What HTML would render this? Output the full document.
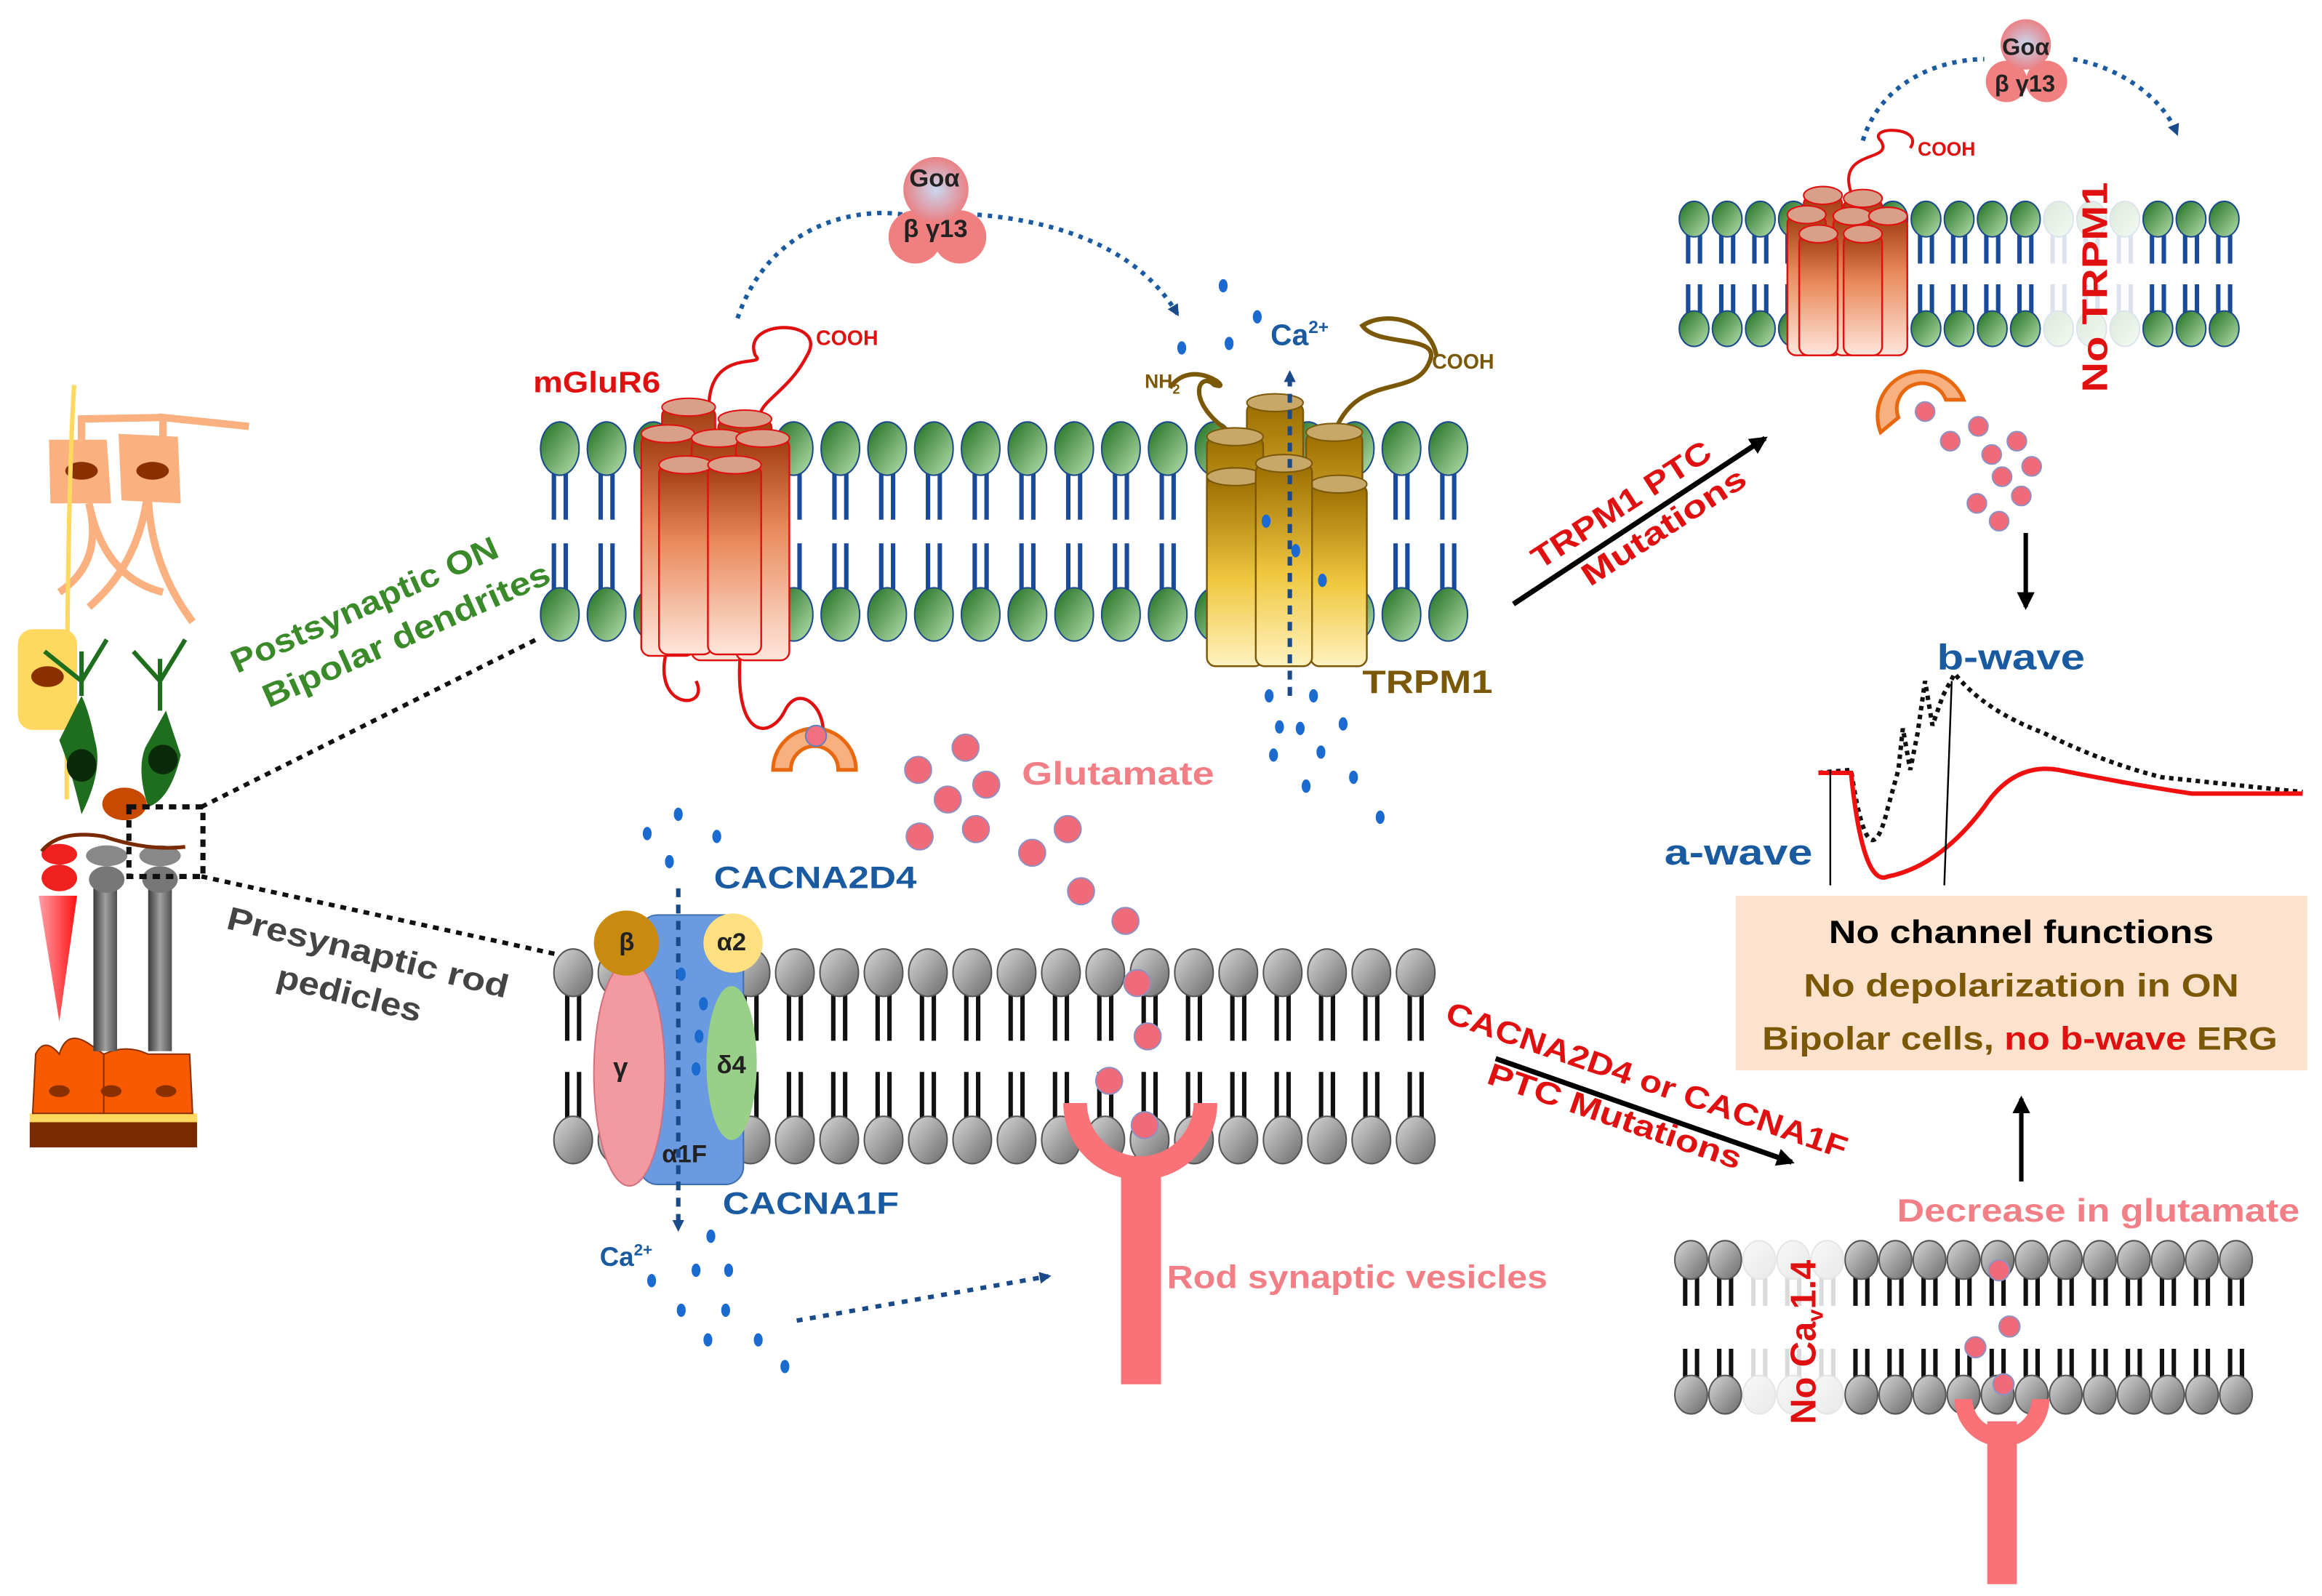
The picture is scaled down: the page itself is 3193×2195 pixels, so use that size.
<!DOCTYPE html>
<html><head><meta charset="utf-8"><style>
html,body{margin:0;padding:0;background:#fff}
svg{display:block}
text{font-family:"Liberation Sans","DejaVu Sans",sans-serif;font-weight:bold}
</style></head><body>
<svg id="s" width="3193" height="2195" viewBox="0 0 1568 1078" xmlns="http://www.w3.org/2000/svg">
<defs>
<linearGradient id="gh" x1="0" y1="0" x2="1" y2="1"><stop offset="0" stop-color="#1e6e1e"/><stop offset="1" stop-color="#b8e0b0"/></linearGradient>
<linearGradient id="grh" x1="0" y1="0" x2="1" y2="1"><stop offset="0" stop-color="#d8d8d8"/><stop offset="1" stop-color="#6a6a6a"/></linearGradient>
<linearGradient id="rc" x1="0" y1="1" x2="0" y2="0"><stop offset="0" stop-color="#ffe6dc"/><stop offset="0.6" stop-color="#e8895a"/><stop offset="1" stop-color="#a03a10"/></linearGradient>
<linearGradient id="gc" x1="0" y1="1" x2="0" y2="0"><stop offset="0" stop-color="#fff2c0"/><stop offset="0.45" stop-color="#f0c840"/><stop offset="1" stop-color="#9a6c00"/></linearGradient>
<linearGradient id="gy" x1="0" y1="0" x2="1" y2="0"><stop offset="0" stop-color="#3a3a3a"/><stop offset="0.5" stop-color="#a0a0a0"/><stop offset="1" stop-color="#505050"/></linearGradient>
<radialGradient id="gb" cx="0.5" cy="0.5" r="0.6"><stop offset="0" stop-color="#c8d8f0"/><stop offset="1" stop-color="#f07070"/></radialGradient>
<linearGradient id="rd" x1="0" y1="0" x2="1" y2="0"><stop offset="0" stop-color="#ffa0a8"/><stop offset="1" stop-color="#ff1010"/></linearGradient>
<marker id="ab" markerWidth="8" markerHeight="8" refX="6" refY="4" orient="auto" markerUnits="userSpaceOnUse"><path d="M0,0 L8,4 L0,8z" fill="#1a4a8a"/></marker>
<marker id="ak" markerWidth="12" markerHeight="12" refX="10" refY="6" orient="auto" markerUnits="userSpaceOnUse"><path d="M0,0 L12,6 L0,12z" fill="#000"/></marker>
</defs>
<g id="mem"></g>

<path d="M480,290 C470,230 520,250 510,240 C500,215 560,215 545,240 C530,270 500,275 520,290 M450,440 C440,480 480,480 470,460 M500,440 C495,500 520,500 530,480 C540,460 560,480 555,500" fill="none" stroke="#e01010" stroke-width="2.2"/>
<text x="551" y="233" font-size="14" fill="#e01010">COOH</text>
<text x="360" y="265" font-size="20" fill="#e01010" textLength="86">mGluR6</text>
<g id="mglu"></g>
<path d="M522,520 A28,28 0 1,1 578,520 L566,520 A16,16 0 1,0 534,520 Z" fill="#f8b080" stroke="#e86810" stroke-width="2.5"/>
<circle cx="551" cy="497" r="7" fill="#f07080" stroke="#6080c0"/>
<path d="M828,290 C800,270 810,250 820,260 C835,265 805,240 790,262 M900,295 C915,250 955,270 965,245 C975,225 930,235 920,220 C935,210 965,215 970,240" fill="none" stroke="#7a5808" stroke-width="3"/>
<text x="773" y="262" font-size="13" fill="#7a5808">NH<tspan font-size="9" dy="4">2</tspan></text>
<text x="967" y="249" font-size="14" fill="#7a5808">COOH</text>
<g id="trp"></g>
<line x1="871" y1="470" x2="871" y2="252" stroke="#1a4a8a" stroke-width="3" stroke-dasharray="6,5" marker-end="url(#ab)"/>
<text x="858" y="233" font-size="20" fill="#1a5aa0">Ca<tspan font-size="12" dy="-8">2+</tspan></text>
<text x="920" y="468" font-size="22" fill="#7a5808" textLength="88">TRPM1</text>
<path d="M498,215 C520,150 580,140 610,145" fill="none" stroke="#1a5aa0" stroke-width="3" stroke-dasharray="3,4"/>
<path d="M660,145 C720,150 770,170 795,212" fill="none" stroke="#1a5aa0" stroke-width="3" stroke-dasharray="3,4" marker-end="url(#ab)"/>
<circle cx="618" cy="160" r="18" fill="#f08080"/><circle cx="648" cy="160" r="18" fill="#f08080"/><circle cx="632" cy="128" r="22" fill="url(#gb)"/>
<text x="614" y="126" font-size="17" fill="#222">Goα</text>
<text x="610" y="160" font-size="17" fill="#222">β  γ13</text>
<text x="690" y="530" font-size="22" fill="#f27e86" textLength="130">Glutamate</text>
<g id="glu"></g>
<rect x="432" y="618" width="70" height="182" rx="12" fill="#6a9ae0" stroke="#4070b0"/>
<ellipse cx="425" cy="725" rx="24" ry="76" fill="#f29aa0" stroke="#d07080"/>
<circle cx="423" cy="637" r="22" fill="#c98a10"/>
<circle cx="495" cy="637" r="20" fill="#ffe080"/>
<ellipse cx="494" cy="718" rx="17" ry="52" fill="#98d088"/>
<text x="418" y="642" font-size="17" fill="#222">β</text>
<text x="484" y="642" font-size="17" fill="#222">α2</text>
<text x="414" y="727" font-size="18" fill="#222">γ</text>
<text x="484" y="725" font-size="17" fill="#222">δ4</text>
<text x="447" y="785" font-size="17" fill="#222">α1F</text>
<line x1="458" y1="600" x2="458" y2="830" stroke="#1a4a8a" stroke-width="3" stroke-dasharray="6,5" marker-end="url(#ab)"/>
<text x="482" y="600" font-size="21" fill="#1a5aa0" textLength="137">CACNA2D4</text>
<text x="488" y="820" font-size="21" fill="#1a5aa0" textLength="119">CACNA1F</text>
<text x="405" y="855" font-size="18" fill="#1a5aa0">Ca<tspan font-size="11" dy="-7">2+</tspan></text>
<line x1="538" y1="892" x2="708" y2="862" stroke="#1a4a8a" stroke-width="3" stroke-dasharray="4,5" marker-end="url(#ab)"/>
<path d="M718,745 A52,52 0 0,0 822,745 L806,745 A36,36 0 0,1 734,745 Z" fill="#f87278"/>
<rect x="757" y="790" width="27" height="145" fill="#f87278"/>
<text x="788" y="870" font-size="22" fill="#f27e86" textLength="257">Rod synaptic vesicles</text>
<g transform="translate(160,455) rotate(-24)"><text font-size="22" fill="#3a8a2a" x="0" y="0" textLength="195">Postsynaptic ON</text><text font-size="22" fill="#3a8a2a" x="10" y="30" textLength="210">Bipolar dendrites</text></g>
<g transform="translate(152,627) rotate(14)"><text font-size="22" fill="#444" x="0" y="0" textLength="195">Presynaptic rod</text><text font-size="22" fill="#444" x="42" y="30" textLength="100">pedicles</text></g>
<line x1="136" y1="545" x2="362" y2="432" stroke="#111" stroke-width="3" stroke-dasharray="4,4"/>
<line x1="136" y1="592" x2="378" y2="645" stroke="#111" stroke-width="3" stroke-dasharray="4,4"/>
<g>
<rect x="20" y="757" width="113" height="18" fill="#7a2a00"/><rect x="20" y="752" width="113" height="6" fill="#ffd860"/>
<path d="M22,752 L24,712 Q30,700 40,712 Q45,695 60,705 L70,712 L70,752 Z M70,712 Q85,705 100,712 L128,712 L130,752 L70,752Z" fill="#f85a00" stroke="#8a3000"/>
<ellipse cx="40" cy="737" rx="7" ry="4" fill="#8a3000"/><ellipse cx="75" cy="737" rx="7" ry="4" fill="#8a3000"/><ellipse cx="112" cy="737" rx="7" ry="4" fill="#8a3000"/>
<path d="M26,605 L52,605 L40,690 Z" fill="url(#rd)"/><ellipse cx="40" cy="593" rx="12" ry="9" fill="#f02020"/><ellipse cx="40" cy="577" rx="12" ry="7" fill="#f02020"/>
<rect x="63" y="600" width="16" height="110" fill="url(#gy)"/><rect x="100" y="600" width="16" height="110" fill="url(#gy)"/>
<ellipse cx="72" cy="594" rx="12" ry="9" fill="#777"/><ellipse cx="72" cy="578" rx="14" ry="7" fill="#888"/>
<ellipse cx="108" cy="594" rx="12" ry="9" fill="#777"/><ellipse cx="108" cy="578" rx="14" ry="7" fill="#888"/>
<path d="M33,297 L72,297 L75,340 L34,340 Z M80,293 L120,295 L122,340 L82,338 Z" fill="#fbb080"/>
<ellipse cx="55" cy="318" rx="11" ry="6" fill="#8a3000"/><ellipse cx="103" cy="318" rx="11" ry="6" fill="#8a3000"/>
<path d="M110,297 L110,282 L168,288 M55,297 L55,283 L110,282 M60,340 Q70,380 40,400 M60,340 Q70,390 110,400 M100,330 Q95,380 60,410 M100,330 Q100,380 130,420" fill="none" stroke="#fbb080" stroke-width="5"/>
<path d="M50,260 Q45,340 45,540" fill="none" stroke="#ffd860" stroke-width="3"/>
<rect x="12" y="425" width="40" height="68" rx="10" fill="#ffd860"/><ellipse cx="32" cy="457" rx="11" ry="7" fill="#8a3000"/>
<path d="M40,500 Q48,520 55,550 Q70,520 64,500 Q60,480 55,470 Z" fill="#1e6e1e"/>
<ellipse cx="55" cy="517" rx="10" ry="11" fill="#0a2a0a"/>
<path d="M112,480 L122,510 Q115,540 100,545 Q92,520 98,505 Z" fill="#1e6e1e"/><ellipse cx="110" cy="513" rx="10" ry="10" fill="#0a2a0a"/>
<path d="M55,470 L55,440 M30,440 L55,460 L72,432 M108,480 L108,445 M90,440 L108,460 L125,432" stroke="#1e6e1e" stroke-width="3" fill="none"/>
<ellipse cx="84" cy="543" rx="15" ry="11" fill="#c84a00"/>
<path d="M28,575 Q40,560 70,565 Q100,575 125,572" fill="none" stroke="#7a2a00" stroke-width="2.5"/>
<rect x="87" y="545" width="50" height="47" fill="none" stroke="#111" stroke-width="3.5" stroke-dasharray="5,4"/>
</g>
<g id="trm"></g>
<path d="M1258,95 C1270,55 1310,40 1340,40 M1400,40 C1430,45 1460,65 1470,90" fill="none" stroke="#1a5aa0" stroke-width="3" stroke-dasharray="3,4" marker-end="url(#ab)"/>
<circle cx="1355" cy="55" r="14" fill="#f08080"/><circle cx="1382" cy="55" r="14" fill="#f08080"/><circle cx="1368" cy="30" r="17" fill="url(#gb)"/>
<text x="1352" y="37" font-size="16" fill="#222">Goα</text><text x="1347" y="62" font-size="16" fill="#222">β γ13</text>
<path d="M1250,130 C1240,100 1280,110 1270,95 C1260,85 1300,85 1290,100" fill="none" stroke="#e01010" stroke-width="2"/>
<text x="1295" y="105" font-size="13" fill="#e01010">COOH</text>
<path d="M1270,292 A28,28 0 1,1 1326,270 L1314,270 A16,16 0 1,0 1282,282 Z" fill="#f8b080" stroke="#e86810" stroke-width="2.5"/>
<text transform="translate(1423,265) rotate(-90)" font-size="24" fill="#e01010" textLength="142">No TRPM1</text>
<g id="glu2"></g>
<line x1="1368" y1="360" x2="1368" y2="410" stroke="#000" stroke-width="3" marker-end="url(#ak)"/>
<line x1="1022" y1="408" x2="1192" y2="296" stroke="#000" stroke-width="3.5" marker-end="url(#ak)"/>
<g transform="translate(1040,385) rotate(-33)"><text font-size="21" fill="#e01010" x="0" y="0" textLength="140">TRPM1 PTC</text><text font-size="21" fill="#e01010" x="22" y="28" textLength="128">Mutations</text></g>
<text x="1308" y="452" font-size="24" fill="#1a5aa0" textLength="100">b-wave</text>
<text x="1124" y="584" font-size="24" fill="#1a5aa0" textLength="100">a-wave</text>
<path d="M1228,522 L1250,520 Q1262,600 1275,545 L1282,520 L1285,492 L1290,520 L1295,495 L1300,460 L1305,490 L1312,470 L1320,455 Q1340,480 1380,495 Q1420,515 1460,525 L1555,535" fill="none" stroke="#111" stroke-width="3" stroke-dasharray="3,3"/>
<path d="M1228,522 L1250,522 Q1258,600 1275,592 Q1310,585 1340,545 Q1360,515 1390,520 Q1440,530 1480,536 L1555,536" fill="none" stroke="#f01010" stroke-width="3"/>
<line x1="1236" y1="598" x2="1236" y2="520" stroke="#000" stroke-width="1.2"/>
<line x1="1313" y1="598" x2="1318" y2="460" stroke="#000" stroke-width="1.2"/>
<rect x="1172" y="605" width="386" height="118" fill="#fde3cd"/>
<text x="1235" y="637" font-size="22" fill="#000" textLength="260">No channel functions</text>
<text x="1218" y="673" font-size="22" fill="#7a5808" textLength="294">No depolarization in ON</text>
<text x="1190" y="709" font-size="22" fill="#7a5808" textLength="348">Bipolar cells, <tspan fill="#e01010">no b-wave</tspan> ERG</text>
<line x1="1365" y1="798" x2="1365" y2="742" stroke="#000" stroke-width="3" marker-end="url(#ak)"/>
<text x="1281" y="825" font-size="22" fill="#f27e86" textLength="272">Decrease in glutamate</text>
<line x1="1010" y1="715" x2="1210" y2="785" stroke="#000" stroke-width="3.5" marker-end="url(#ak)"/>
<g transform="translate(975,690) rotate(19)"><text font-size="21" fill="#e01010" x="0" y="0" textLength="285">CACNA2D4 or CACNA1F</text><text font-size="21" fill="#e01010" x="40" y="30" textLength="180">PTC Mutations</text></g>
<g id="brm"></g>
<path d="M1320,945 A32,32 0 0,0 1384,945 L1372,945 A20,20 0 0,1 1332,945 Z" fill="#f87278"/>
<rect x="1342" y="960" width="20" height="110" fill="#f87278"/>
<g id="glu3"></g>
<text transform="translate(1226,962) rotate(-90)" font-size="24" fill="#e01010">No Ca<tspan font-size="15" dy="5">v</tspan><tspan dy="-5">1.4</tspan></text>
</svg>
<script>
const NS="http://www.w3.org/2000/svg";
document.querySelectorAll('text[textLength]').forEach(t=>t.setAttribute('lengthAdjust','spacingAndGlyphs'));
function el(p,t,a){const e=document.createElementNS(NS,t);for(const k in a)e.setAttribute(k,a[k]);p.appendChild(e);return e;}
function membrane(g,x0,x1,n,yt,yb,rx,ry,fill,stroke,tail,fade,tl){
 tl=tl||30;
 const step=(x1-x0)/(n-1);
 for(let i=0;i<n;i++){const x=x0+i*step; const op=(fade&&fade(x))?0.15:1;
  const gg=el(g,'g',{opacity:op});
  for(const dx of [-4,4]){el(gg,'line',{x1:x+dx,y1:yt+ry-2,x2:x+dx,y2:yt+ry+tl,stroke:tail,'stroke-width':3});
   el(gg,'line',{x1:x+dx,y1:yb-ry+2,x2:x+dx,y2:yb-ry-tl,stroke:tail,'stroke-width':3});}
  el(gg,'ellipse',{cx:x,cy:yt,rx:rx,ry:ry,fill:fill,stroke:stroke,'stroke-width':1});
  el(gg,'ellipse',{cx:x,cy:yb,rx:rx,ry:ry,fill:fill,stroke:stroke,'stroke-width':1});}
}
const mem=document.getElementById('mem');
membrane(mem,378,978,20,303,415,13,18,'url(#gh)','#1a4a8a','#1a4a9a');
membrane(mem,387,956,20,657,770,13,16,'url(#grh)','#555','#111');
membrane(document.getElementById('trm'),1144,1502,17,148,222,10,12,'url(#gh)','#1a4a8a','#1a4a9a',x=>x>1385&&x<1440,18);
membrane(document.getElementById('brm'),1142,1510,17,851,942,11,13,'url(#grh)','#555','#111',x=>x>1175&&x<1235,18);
function cyl(g,x,y,w,h,fill,top,str){el(g,'rect',{x:x,y:y,width:w,height:h,rx:6,fill:fill,stroke:str,'stroke-width':1.2});
 el(g,'ellipse',{cx:x+w/2,cy:y,rx:w/2,ry:6,fill:top,stroke:str,'stroke-width':1});}
const mg=document.getElementById('mglu');
[[447,275],[485,283],[433,293],[467,296],[497,296],[445,314],[478,314]].forEach(([x,y])=>cyl(mg,x,y,36,y>300?128:150,'url(#rc)','#d8a088','#e01010'));
const tr=document.getElementById('trp');
[[842,272],[815,295],[882,292],[815,322],[885,327],[848,313]].forEach(([x,y])=>cyl(tr,x,y,38,y>300?450-y:440-y,'url(#gc)','#c8a868','#7a5808'));
const tm=document.getElementById('trm');
[[1218,132],[1245,134],[1207,145],[1238,146],[1262,146],[1215,158],[1245,158]].forEach(([x,y])=>cyl(tm,x,y,26,240-y,'url(#rc)','#d8a088','#e01010'));
function dots(id,pts,r,fill,str){const g=document.getElementById(id);pts.forEach(([x,y])=>el(g,'circle',{cx:x,cy:y,r:r,fill:fill,stroke:str,'stroke-width':1}));}
dots('glu',[[620,520],[652,505],[640,540],[666,530],[621,565],[659,560],[697,576],[721,560],[730,602],[760,622],[768,664],[775,700],[749,730],[773,760]],9,'#f06b7a','#9090c0');
dots('glu2',[[1300,278],[1317,298],[1336,288],[1345,307],[1362,298],[1372,315],[1352,322],[1335,340],[1365,335],[1350,352]],6.5,'#f06b7a','#9090c0');
dots('glu3',[[1350,858],[1334,910],[1357,896],[1353,935]],7,'#f06b7a','#9090c0');
const gb=el(document.getElementById('s'),'g',{});
[[826,193],[798,235],[830,232],[849,214],[855,352],[875,372],[893,392],[857,470],[887,470],[864,491],[878,492],[907,489],[860,510],[892,508],[914,525],[882,531],[932,552],[437,563],[458,550],[484,565],[452,582],[460,658],[475,678],[472,700],[470,722],[480,835],[440,865],[470,858],[492,858],[460,885],[490,885],[478,905],[512,905],[530,923]].forEach(([x,y])=>el(gb,'ellipse',{cx:x,cy:y,rx:3,ry:4.5,fill:'#1a6ad0'}));
</script>
</body></html>
